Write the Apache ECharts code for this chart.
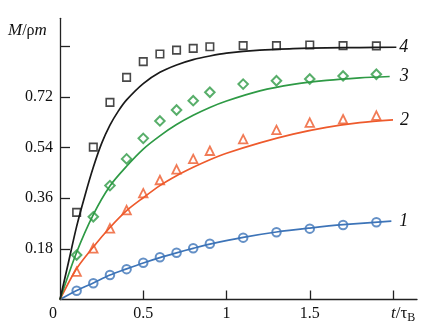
<!DOCTYPE html>
<html>
<head>
<meta charset="utf-8">
<script src="https://cdn.jsdelivr.net/npm/echarts@6/dist/echarts.min.js"></script>
<style>html,body{margin:0;padding:0;background:#fff}#c{width:437px;height:328px}</style>
</head>
<body>
<div id="c"></div>
<script>
// measured times (t / tau_B)
const tPoints = [0.1,0.2,0.3,0.4,0.5,0.6,0.7,0.8,0.9,1.1,1.3,1.5,1.7,1.9];
// markers M/(rho m)
const circles1   = [0.031,0.058,0.087,0.108,0.131,0.150,0.166,0.182,0.198,0.220,0.239,0.252,0.265,0.275];
const triangles2 = [0.099,0.182,0.253,0.318,0.378,0.425,0.463,0.500,0.529,0.570,0.603,0.629,0.641,0.654];
const diamonds3  = [0.158,0.294,0.405,0.500,0.573,0.635,0.674,0.707,0.737,0.766,0.778,0.784,0.795,0.801];
const squares4   = [0.310,0.542,0.701,0.790,0.846,0.873,0.887,0.893,0.899,0.903,0.903,0.905,0.903,0.902];
// curves
const curve1 = [[0,0],[0.1,0.032],[0.2,0.059],[0.3,0.087],[0.4,0.109],[0.5,0.13],[0.6,0.149],[0.7,0.166],[0.8,0.182],[0.9,0.197],[1.1,0.221],[1.3,0.24],[1.5,0.254],[1.7,0.266],[1.99,0.279]];
const curve2 = [[0,0],[0.1,0.11],[0.2,0.187],[0.3,0.256],[0.4,0.316],[0.5,0.362],[0.6,0.405],[0.7,0.44],[0.8,0.47],[0.9,0.497],[1.0,0.52],[1.2,0.557],[1.4,0.588],[1.6,0.612],[1.8,0.629],[2.0,0.639]];
const curve3 = [[0,0],[0.1,0.168],[0.2,0.302],[0.3,0.404],[0.4,0.474],[0.5,0.535],[0.6,0.582],[0.7,0.622],[0.8,0.655],[0.9,0.683],[1.0,0.706],[1.2,0.742],[1.4,0.765],[1.6,0.779],[1.8,0.788],[1.98,0.793]];
const curve4 = [[0,0],[0.05,0.13],[0.1,0.26],[0.15,0.37],[0.2,0.47],[0.25,0.555],[0.3,0.62],[0.35,0.67],[0.4,0.71],[0.5,0.768],[0.6,0.808],[0.7,0.834],[0.8,0.853],[0.9,0.866],[1.0,0.876],[1.2,0.887],[1.4,0.892],[1.6,0.895],[1.8,0.896],[2.02,0.897]];
const curveLabels = ['1','2','3','4'];
const xTickValues = [0.5,1,1.5,2];
const xLabelValues = [0,0.5,1,1.5];
const yTickValues = [0.18,0.36,0.54,0.72,0.9];
const yLabelValues = [0.18,0.36,0.54,0.72];

const FONT = 'Liberation Serif';
const cBlue = '#3d74b8', cOrange = '#ee5a2c', cGreen = '#2e9a45', cBlack = '#1a1a1a';

const pts = arr => tPoints.map((t,i)=>[t,arr[i]]);
function curve(data, color, label, dist){
  return {type:'line', data, smooth:0.3, showSymbol:false, z:2,
    lineStyle:{color, width:1.7}, itemStyle:{color},
    endLabel:{show:true, formatter:label, distance:dist, color:'#111',
      fontFamily:FONT, fontStyle:'italic', fontSize:18}};
}
function marks(data, symbol, size, color, bw){
  return {type:'scatter', data, symbol, symbolSize:size, z:3,
    itemStyle:{color:'rgba(255,255,255,0)', borderColor:color, borderWidth:bw}};
}

const chart = echarts.init(document.getElementById('c'), null, {renderer:'canvas'});
chart.setOption({
  animation:false,
  backgroundColor:'#fff',
  grid:{left:60, right:20, top:18.3, bottom:28.5},
  xAxis:{type:'value', min:0, max:2.144,
    axisLine:{lineStyle:{color:'#222', width:1.3}},
    axisTick:{inside:true, length:9, customValues:xTickValues, lineStyle:{color:'#222', width:1.3}},
    axisLabel:{customValues:xLabelValues, margin:6, color:'#111', fontFamily:FONT, fontSize:16,
      formatter:v=> v===0 ? '{z|0}' : String(v),
      rich:{z:{fontFamily:FONT, fontSize:16, color:'#111', padding:[0,14,0,0]}}},
    splitLine:{show:false}},
  yAxis:{type:'value', min:0, max:1.0,
    axisLine:{show:true, lineStyle:{color:'#222', width:1.3}},
    axisTick:{show:true, inside:true, length:10, customValues:yTickValues, lineStyle:{color:'#222', width:1.3}},
    axisLabel:{customValues:yLabelValues, margin:7, color:'#111', fontFamily:FONT, fontSize:16,
      formatter:v=>v.toFixed(2)},
    splitLine:{show:false}},
  graphic:[
    {type:'text', left:8, top:22, style:{
      text:'{i|M}/ρ{i|m}', fill:'#111', font:'16px '+FONT,
      rich:{i:{fontFamily:FONT, fontStyle:'italic', fontSize:17, fill:'#111'}}}},
    {type:'text', left:391, top:305, style:{
      text:'{i|t}/τ{s|B}', fill:'#111', font:'17px '+FONT,
      rich:{i:{fontFamily:FONT, fontStyle:'italic', fontSize:17, fill:'#111'},
            s:{fontFamily:FONT, fontSize:12, fill:'#111', padding:[8,0,0,0]}}}}
  ],
  series:[
    curve(curve1, cBlue, curveLabels[0], 8),
    curve(curve2, cOrange, curveLabels[1], 7),
    curve(curve3, cGreen, curveLabels[2], 10),
    curve(curve4, cBlack, curveLabels[3], 3),
    marks(pts(circles1), 'circle', 8.5, cBlue, 2),
    marks(pts(triangles2), 'triangle', 8.5, cOrange, 1.8),
    marks(pts(diamonds3), 'diamond', 9.5, cGreen, 2),
    marks(pts(squares4), 'rect', 7.5, cBlack, 1.6)
  ]
});
</script>
</body>
</html>
